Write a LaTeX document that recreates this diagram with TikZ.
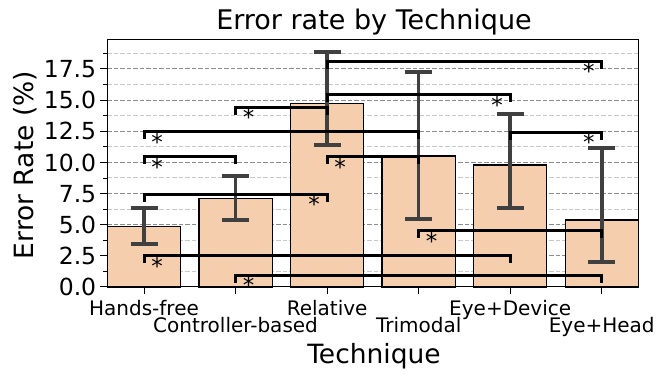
\documentclass[tikz,border=0pt]{standalone}
\usepackage{fontspec}
\setmainfont{DejaVu Sans}
\definecolor{barfill}{RGB}{245,206,174}
\definecolor{errc}{RGB}{64,64,64}
\definecolor{gridmaj}{RGB}{140,140,140}
\definecolor{gridmin}{RGB}{200,200,200}
\begin{document}
\begin{tikzpicture}[x=1pt,y=1pt,
  barstyle/.style={draw=black, line width=1.2pt, fill=barfill},
  errline/.style={draw=errc, line width=3.5pt},
  errcap/.style={draw=errc, line width=4pt},
  brk/.style={draw=black, line width=3pt, line cap=rect, line join=miter},
  starlab/.style={font=\fontsize{23}{23}\selectfont, inner sep=0pt, anchor=base},
  ticklab/.style={font=\fontsize{20}{24}\selectfont, inner sep=0pt},
  yticklab/.style={font=\fontsize{23.5}{28}\selectfont, inner sep=0pt},
  biglab/.style={font=\fontsize{26.5}{30}\selectfont, inner sep=0pt},
  titlelab/.style={font=\fontsize{27}{30}\selectfont, inner sep=0pt},
  gridmajor/.style={draw=gridmaj, line width=1pt, dash pattern=on 4.5pt off 2pt},
  gridminor/.style={draw=gridmin, line width=1pt, dash pattern=on 4.5pt off 2pt},
]
\useasboundingbox (0,0) rectangle (657,375);
\node[titlelab, anchor=base] (title) at (374,345) {Error rate by Technique};
\node[biglab, anchor=base] (xlab) at (374,11.5) {Technique};
\node[biglab, anchor=base, rotate=90] (ylab) at (33,210) {Error Rate (\%)};
\begin{scope}[shift={(144,88)}, x=91.55pt, y=12.457pt]
  % grid
  \foreach \v in {1.25,3.75,...,18.8}
    \draw[gridminor] (-0.4,\v) -- (5.4,\v);
  \foreach \v in {2.5,5,...,17.6}
    \draw[gridmajor] (-0.4,\v) -- (5.4,\v);
  % bars
  \foreach \i/\h/\nm in {0/4.87/hf, 1/7.1/cb, 2/14.75/rel, 3/10.52/tri, 4/9.8/ed, 5/5.38/eh}{
    \draw[barstyle] (\i-0.4,0) rectangle (\i+0.4,\h);
    \coordinate (\nm) at (\i,0);
  }
  % error bars
  \foreach \i/\lo/\hi in {0/3.45/6.37, 1/5.38/8.91, 2/11.4/18.89, 3/5.46/17.28, 4/6.32/13.89, 5/2.0/11.18}{
    \draw[errline] (\i,\lo) -- (\i,\hi);
    \draw[errcap] ([xshift=-13.5pt]\i,\lo) -- ([xshift=13.5pt]\i,\lo);
    \draw[errcap] ([xshift=-13.5pt]\i,\hi) -- ([xshift=13.5pt]\i,\hi);
  }
  % significance brackets
  \foreach \a/\b/\y/\s in {2/5/18.14/r, 2/4/15.45/r, 1/2/14.43/l, 0/3/12.46/l, 4/5/12.44/r,
                           0/1/10.46/l, 2/3/10.47/l, 0/2/7.44/r, 3/5/4.5/l, 0/4/2.49/l, 1/5/0.96/l}{
    \draw[brk] ([yshift=-6pt]\a,\y) -- (\a,\y) -- (\b,\y) -- ([yshift=-6pt]\b,\y);
    \if\s r
      \node[starlab] at ([xshift=-13pt,yshift=-18.6pt]\b,\y) {*};
    \else
      \node[starlab] at ([xshift=13pt,yshift=-18.6pt]\a,\y) {*};
    \fi
  }
  % axes frame
  \draw[line width=1pt] (-0.4,0) rectangle (5.4,19.9);
  % y ticks
  \foreach \v/\t in {0/0.0, 2.5/2.5, 5/5.0, 7.5/7.5, 10/10.0, 12.5/12.5, 15/15.0, 17.5/17.5}{
    \draw[line width=1pt] (-0.4,\v) -- ([xshift=-7pt]-0.4,\v);
    \node[yticklab, anchor=base east] at ([xshift=-11pt,yshift=-8.6pt]-0.4,\v) {\t};
  }
  \foreach \v in {1.25,3.75,...,18.8}
    \draw[line width=0.8pt] (-0.4,\v) -- ([xshift=-4pt]-0.4,\v);
  % x ticks and labels
  \foreach \i/\t/\r in {0/Hands-free/0, 1/Controller-based/1, 2/Relative/0, 3/Trimodal/1, 4/Eye+Device/0, 5/Eye+Head/1}{
    \draw[line width=1pt] (\i,0) -- ([yshift=-7pt]\i,0);
    \node[ticklab, anchor=base] at ([yshift={-29pt-17pt*\r}]\i,0) {\t};
  }
\end{scope}
\end{tikzpicture}
\end{document}
